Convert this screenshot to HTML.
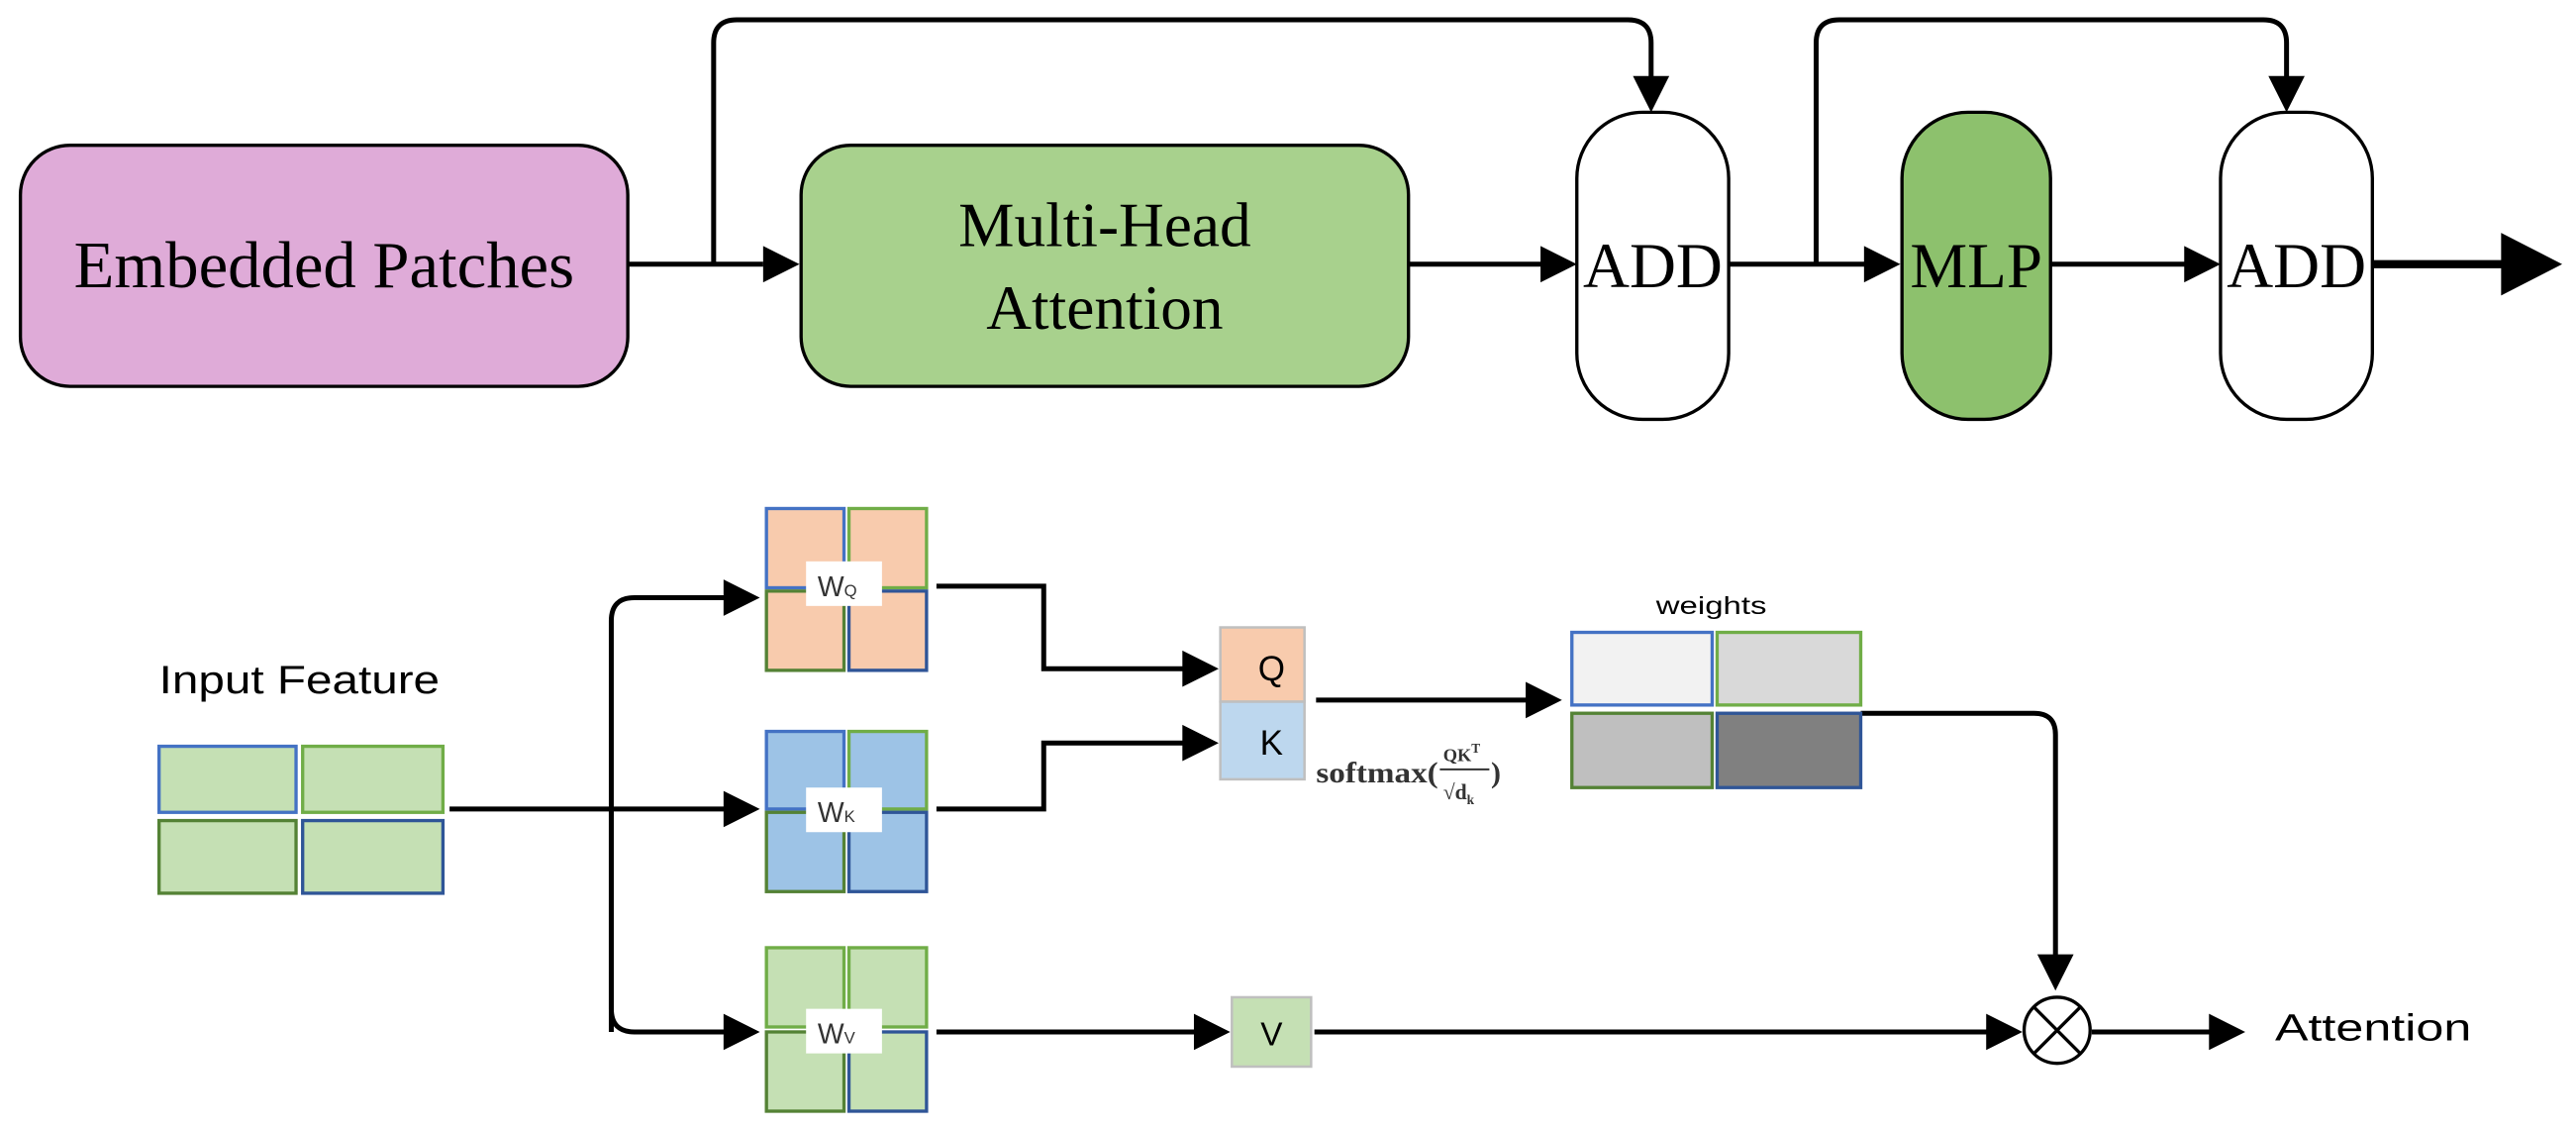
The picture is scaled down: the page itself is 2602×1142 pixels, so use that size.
<!DOCTYPE html>
<html><head><meta charset="utf-8"><style>
html,body{margin:0;padding:0;background:#fff;}
svg{display:block;}
.s{font-family:"Liberation Serif",serif;}
.a{font-family:"Liberation Sans","DejaVu Sans",sans-serif;}
</style></head><body>
<svg width="2602" height="1142" viewBox="0 0 1560 685" xmlns="http://www.w3.org/2000/svg">
<g fill="none" stroke="#000" stroke-width="3">
<path d="M380,160 H462"/><path d="M462,149 L484,160 L462,171z" fill="#000" stroke="none"/>
<path d="M432,160 V26 Q432,12 446,12 H986 Q1000,12 1000,26 V48"/><path d="M989,46 L1000,68 L1011,46z" fill="#000" stroke="none"/>
<path d="M853,160 H935"/><path d="M933,149 L955,160 L933,171z" fill="#000" stroke="none"/>
<path d="M1047,160 H1130"/><path d="M1129,149 L1151,160 L1129,171z" fill="#000" stroke="none"/>
<path d="M1100,160 V26 Q1100,12 1114,12 H1371 Q1385,12 1385,26 V48"/><path d="M1374,46 L1385,68 L1396,46z" fill="#000" stroke="none"/>
<path d="M1242,160 H1325"/><path d="M1323,149 L1345,160 L1323,171z" fill="#000" stroke="none"/>
<path d="M1437,160 H1520" stroke-width="5"/><path d="M1515,141 L1552,160 L1515,179z" fill="#000" stroke="none"/>
</g>
<rect x="12" y="88" width="368" height="146" rx="30" fill="#dfabd8" stroke="#000" stroke-width="2"/>
<text class="s" x="196" y="174" font-size="40" text-anchor="middle">Embedded Patches</text>
<rect x="485" y="88" width="368" height="146" rx="30" fill="#a8d18d" stroke="#000" stroke-width="2"/>
<text class="s" x="669" y="149" font-size="38" text-anchor="middle">Multi-Head</text>
<text class="s" x="669" y="199" font-size="38" text-anchor="middle">Attention</text>
<rect x="955" y="68" width="92" height="186" rx="40" fill="#fff" stroke="#000" stroke-width="2"/>
<text class="s" x="1001" y="174" font-size="39" text-anchor="middle">ADD</text>
<rect x="1152" y="68" width="90" height="186" rx="40" fill="#8dc16d" stroke="#000" stroke-width="2"/>
<text class="s" x="1197" y="174" font-size="39" text-anchor="middle">MLP</text>
<rect x="1345" y="68" width="92" height="186" rx="40" fill="#fff" stroke="#000" stroke-width="2"/>
<text class="s" x="1391" y="174" font-size="39" text-anchor="middle">ADD</text>

<text class="a" x="96" y="420" font-size="24" textLength="170" lengthAdjust="spacingAndGlyphs">Input Feature</text>
<g stroke-width="2">
<rect x="96" y="452" width="83" height="40" fill="#c5e0b4" stroke="#4472c4"/>
<rect x="183" y="452" width="85" height="40" fill="#c5e0b4" stroke="#70ad47"/>
<rect x="96" y="497" width="83" height="44" fill="#c5e0b4" stroke="#548235"/>
<rect x="183" y="497" width="85" height="44" fill="#c5e0b4" stroke="#2f5597"/>
</g>
<g fill="none" stroke="#000" stroke-width="3">
<path d="M272,490 H440"/><path d="M438,479 L460,490 L438,501z" fill="#000" stroke="none"/>
<path d="M370,625 V376 Q370,362 384,362 H440"/><path d="M438,351 L460,362 L438,373z" fill="#000" stroke="none"/>
<path d="M370,490 V611 Q370,625 384,625 H440"/><path d="M438,614 L460,625 L438,636z" fill="#000" stroke="none"/>
<path d="M567,355 H632 V405 H718"/><path d="M716,394 L738,405 L716,416z" fill="#000" stroke="none"/>
<path d="M567,490 H632 V450 H718"/><path d="M716,439 L738,450 L716,461z" fill="#000" stroke="none"/>
<path d="M797,424 H925"/><path d="M924,413 L946,424 L924,435z" fill="#000" stroke="none"/>
<path d="M1127,432 H1232 Q1245,432 1245,445 V580"/><path d="M1234,578 L1245,600 L1256,578z" fill="#000" stroke="none"/>
<path d="M567,625 H725"/><path d="M723,614 L745,625 L723,636z" fill="#000" stroke="none"/>
<path d="M796,625 H1205"/><path d="M1203,614 L1225,625 L1203,636z" fill="#000" stroke="none"/>
<path d="M1267,625 H1340"/><path d="M1338,614 L1360,625 L1338,636z" fill="#000" stroke="none"/>
</g>
<g stroke-width="2">
<rect x="464" y="308" width="47" height="48" fill="#f8cbad" stroke="#4472c4"/>
<rect x="514" y="308" width="47" height="48" fill="#f8cbad" stroke="#70ad47"/>
<rect x="464" y="358" width="47" height="48" fill="#f8cbad" stroke="#548235"/>
<rect x="514" y="358" width="47" height="48" fill="#f8cbad" stroke="#2f5597"/>
<rect x="464" y="443" width="47" height="47" fill="#9dc3e6" stroke="#4472c4"/>
<rect x="514" y="443" width="47" height="47" fill="#9dc3e6" stroke="#70ad47"/>
<rect x="464" y="492" width="47" height="48" fill="#9dc3e6" stroke="#548235"/>
<rect x="514" y="492" width="47" height="48" fill="#9dc3e6" stroke="#2f5597"/>
<rect x="464" y="574" width="47" height="48" fill="#c5e0b4" stroke="#70ad47"/>
<rect x="514" y="574" width="47" height="48" fill="#c5e0b4" stroke="#70ad47"/>
<rect x="464" y="625" width="47" height="48" fill="#c5e0b4" stroke="#548235"/>
<rect x="514" y="625" width="47" height="48" fill="#c5e0b4" stroke="#2f5597"/>
</g>
<rect x="488" y="340" width="46" height="27" fill="#fff"/>
<text class="a" x="495" y="361" font-size="17" fill="#333">W<tspan font-size="10">Q</tspan></text>
<rect x="488" y="477" width="46" height="27" fill="#fff"/>
<text class="a" x="495" y="498" font-size="17" fill="#333">W<tspan font-size="10">K</tspan></text>
<rect x="488" y="611" width="46" height="27" fill="#fff"/>
<text class="a" x="495" y="632" font-size="17" fill="#333">W<tspan font-size="10">V</tspan></text>
<rect x="739" y="380" width="51" height="45" fill="#f8cbad" stroke="#bfbfbf" stroke-width="1.5"/>
<rect x="739" y="425" width="51" height="47" fill="#bdd7ee" stroke="#bfbfbf" stroke-width="1.5"/>
<text class="a" x="770" y="412" font-size="21" text-anchor="middle">Q</text>
<text class="a" x="770" y="457" font-size="21" text-anchor="middle">K</text>
<rect x="746" y="604" width="48" height="42" fill="#c5e0b4" stroke="#bfbfbf" stroke-width="1.5"/>
<text class="a" x="770" y="633" font-size="20" text-anchor="middle">V</text>
<text class="s" x="797" y="474" font-size="18" font-weight="bold" fill="#333" textLength="74" lengthAdjust="spacingAndGlyphs">softmax(</text>
<text class="s" x="874" y="461" font-size="11" font-weight="bold" fill="#333">QK<tspan font-size="8" dy="-5">T</tspan></text>
<line x1="872" y1="466" x2="902" y2="466" stroke="#333" stroke-width="1.2"/>
<text class="s" x="874" y="484" font-size="13" font-weight="bold" fill="#333">√d<tspan font-size="8" dy="3">k</tspan></text>
<text class="s" x="903" y="474" font-size="18" font-weight="bold" fill="#333">)</text>
<text class="a" x="1003" y="372" font-size="15" textLength="67" lengthAdjust="spacingAndGlyphs">weights</text>
<g stroke-width="2">
<rect x="952" y="383" width="85" height="44" fill="#f2f2f2" stroke="#4472c4"/>
<rect x="1040" y="383" width="87" height="44" fill="#d9d9d9" stroke="#70ad47"/>
<rect x="952" y="432" width="85" height="45" fill="#bfbfbf" stroke="#548235"/>
<rect x="1040" y="432" width="87" height="45" fill="#808080" stroke="#2f5597"/>
</g>
<circle cx="1246" cy="624" r="20" fill="#fff" stroke="#000" stroke-width="2"/>
<path d="M1232,610 L1260,638 M1260,610 L1232,638" stroke="#000" stroke-width="2"/>
<text class="a" x="1378" y="630" font-size="23" textLength="119" lengthAdjust="spacingAndGlyphs">Attention</text>
</svg>
</body></html>
